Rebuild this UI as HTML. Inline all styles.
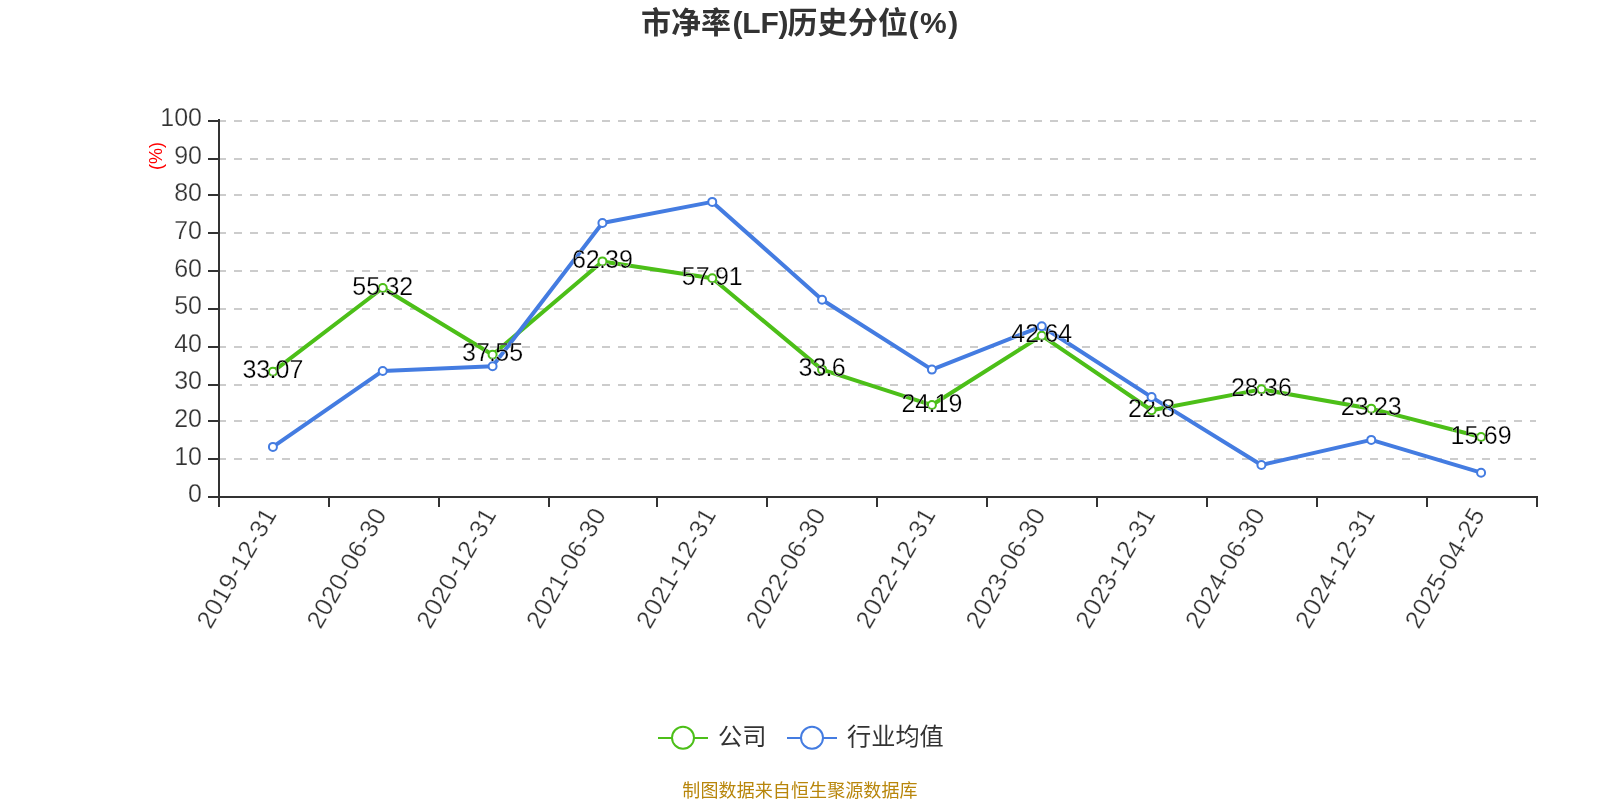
<!DOCTYPE html>
<html lang="zh-CN"><head><meta charset="utf-8"><title>市净率(LF)历史分位(%)</title>
<style>html,body{margin:0;padding:0;background:#fff;}body{width:1600px;height:800px;overflow:hidden;}svg{display:block;will-change:transform;font-family:'Liberation Sans','Noto Sans CJK SC',sans-serif;}</style></head><body>
<svg width="1600" height="800" viewBox="0 0 1600 800">
<rect width="1600" height="800" fill="#fff"/>
<text x="641 671 701 732.5 742.29 760.42 778.55 787.4 817.6 847.8 878 908.4 919.99 948.26" y="33.4" font-size="30" font-weight="bold" fill="#333">市净率(LF)历史分位(%)</text>
<g stroke="#cccccc" stroke-width="2" stroke-dasharray="8 8" fill="none">
<line x1="218" y1="121" x2="1536" y2="121"/>
<line x1="218" y1="159" x2="1536" y2="159"/>
<line x1="218" y1="195" x2="1536" y2="195"/>
<line x1="218" y1="233" x2="1536" y2="233"/>
<line x1="218" y1="271" x2="1536" y2="271"/>
<line x1="218" y1="309" x2="1536" y2="309"/>
<line x1="218" y1="347" x2="1536" y2="347"/>
<line x1="218" y1="385" x2="1536" y2="385"/>
<line x1="218" y1="421" x2="1536" y2="421"/>
<line x1="218" y1="459" x2="1536" y2="459"/>
</g>
<g stroke="#333333" stroke-width="2" fill="none">
<line x1="219" y1="119" x2="219" y2="498"/>
<line x1="218" y1="497" x2="1538" y2="497"/>
<line x1="208" y1="121" x2="218" y2="121"/>
<line x1="208" y1="159" x2="218" y2="159"/>
<line x1="208" y1="195" x2="218" y2="195"/>
<line x1="208" y1="233" x2="218" y2="233"/>
<line x1="208" y1="271" x2="218" y2="271"/>
<line x1="208" y1="309" x2="218" y2="309"/>
<line x1="208" y1="347" x2="218" y2="347"/>
<line x1="208" y1="385" x2="218" y2="385"/>
<line x1="208" y1="421" x2="218" y2="421"/>
<line x1="208" y1="459" x2="218" y2="459"/>
<line x1="208" y1="497" x2="218" y2="497"/>
<line x1="219" y1="497" x2="219" y2="507"/>
<line x1="329" y1="497" x2="329" y2="507"/>
<line x1="439" y1="497" x2="439" y2="507"/>
<line x1="549" y1="497" x2="549" y2="507"/>
<line x1="657" y1="497" x2="657" y2="507"/>
<line x1="767" y1="497" x2="767" y2="507"/>
<line x1="877" y1="497" x2="877" y2="507"/>
<line x1="987" y1="497" x2="987" y2="507"/>
<line x1="1097" y1="497" x2="1097" y2="507"/>
<line x1="1207" y1="497" x2="1207" y2="507"/>
<line x1="1317" y1="497" x2="1317" y2="507"/>
<line x1="1427" y1="497" x2="1427" y2="507"/>
<line x1="1537" y1="497" x2="1537" y2="507"/>
</g>
<g font-size="25" fill="#333" text-anchor="end" stroke="#fff" stroke-width="0.25" paint-order="fill stroke">
<text x="202" y="126.10">100</text>
<text x="202" y="163.70">90</text>
<text x="202" y="201.30">80</text>
<text x="202" y="238.90">70</text>
<text x="202" y="276.50">60</text>
<text x="202" y="314.10">50</text>
<text x="202" y="351.70">40</text>
<text x="202" y="389.30">30</text>
<text x="202" y="426.90">20</text>
<text x="202" y="464.50">10</text>
<text x="202" y="502.10">0</text>
</g>
<text transform="translate(162.2 156) rotate(-90)" text-anchor="middle" font-size="18" fill="#f00">(%)</text>
<g font-size="25" fill="#333" text-anchor="end" letter-spacing="0.6" stroke="#fff" stroke-width="0.25" paint-order="fill stroke">
<text transform="translate(272.92 512) rotate(-60)" x="0.6" y="5">2019-12-31</text>
<text transform="translate(382.75 512) rotate(-60)" x="0.6" y="5">2020-06-30</text>
<text transform="translate(492.58 512) rotate(-60)" x="0.6" y="5">2020-12-31</text>
<text transform="translate(602.42 512) rotate(-60)" x="0.6" y="5">2021-06-30</text>
<text transform="translate(712.25 512) rotate(-60)" x="0.6" y="5">2021-12-31</text>
<text transform="translate(822.08 512) rotate(-60)" x="0.6" y="5">2022-06-30</text>
<text transform="translate(931.92 512) rotate(-60)" x="0.6" y="5">2022-12-31</text>
<text transform="translate(1041.75 512) rotate(-60)" x="0.6" y="5">2023-06-30</text>
<text transform="translate(1151.58 512) rotate(-60)" x="0.6" y="5">2023-12-31</text>
<text transform="translate(1261.42 512) rotate(-60)" x="0.6" y="5">2024-06-30</text>
<text transform="translate(1371.25 512) rotate(-60)" x="0.6" y="5">2024-12-31</text>
<text transform="translate(1481.08 512) rotate(-60)" x="0.6" y="5">2025-04-25</text>
</g>
<polyline points="272.92,371.66 382.75,288.00 492.58,354.81 602.42,261.41 712.25,278.26 822.08,369.66 931.92,405.05 1041.75,335.67 1151.58,410.27 1261.42,389.37 1371.25,408.66 1481.08,437.01" fill="none" stroke="#4cbf18" stroke-width="4" stroke-linejoin="bevel"/>
<polyline points="272.92,446.90 382.75,370.95 492.58,366.20 602.42,223.00 712.25,201.90 822.08,299.70 931.92,369.60 1041.75,326.30 1151.58,397.10 1261.42,464.95 1371.25,439.90 1481.08,472.70" fill="none" stroke="#447ce1" stroke-width="4" stroke-linejoin="bevel"/>
<g fill="#fff" stroke-width="2" stroke="#4cbf18">
<circle cx="272.92" cy="371.66" r="4"/>
<circle cx="382.75" cy="288.00" r="4"/>
<circle cx="492.58" cy="354.81" r="4"/>
<circle cx="602.42" cy="261.41" r="4"/>
<circle cx="712.25" cy="278.26" r="4"/>
<circle cx="822.08" cy="369.66" r="4"/>
<circle cx="931.92" cy="405.05" r="4"/>
<circle cx="1041.75" cy="335.67" r="4"/>
<circle cx="1151.58" cy="410.27" r="4"/>
<circle cx="1261.42" cy="389.37" r="4"/>
<circle cx="1371.25" cy="408.66" r="4"/>
<circle cx="1481.08" cy="437.01" r="4"/>
</g>
<g font-size="25" fill="#000" text-anchor="middle" stroke="#fff" stroke-width="0.25" paint-order="fill stroke">
<text x="272.92" y="378.16" dx="0 0 -0.8 -0.8 0">33.07</text>
<text x="382.75" y="294.50" dx="0 0 -0.8 -0.8 0">55.32</text>
<text x="492.58" y="361.31" dx="0 0 -0.8 -0.8 0">37.55</text>
<text x="602.42" y="267.91" dx="0 0 -0.8 -0.8 0">62.39</text>
<text x="712.25" y="284.76" dx="0 0 -0.8 -0.8 0">57.91</text>
<text x="822.08" y="376.16" dx="0 0 -0.8 -0.8">33.6</text>
<text x="931.92" y="411.55" dx="0 0 -0.8 -0.8 0">24.19</text>
<text x="1041.75" y="342.17" dx="0 0 -0.8 -0.8 0">42.64</text>
<text x="1151.58" y="416.77" dx="0 0 -0.8 -0.8">22.8</text>
<text x="1261.42" y="395.87" dx="0 0 -0.8 -0.8 0">28.36</text>
<text x="1371.25" y="415.16" dx="0 0 -0.8 -0.8 0">23.23</text>
<text x="1481.08" y="443.51" dx="0 0 -0.8 -0.8 0">15.69</text>
</g>
<g fill="#fff" stroke-width="2" stroke="#447ce1">
<circle cx="272.92" cy="446.90" r="4"/>
<circle cx="382.75" cy="370.95" r="4"/>
<circle cx="492.58" cy="366.20" r="4"/>
<circle cx="602.42" cy="223.00" r="4"/>
<circle cx="712.25" cy="201.90" r="4"/>
<circle cx="822.08" cy="299.70" r="4"/>
<circle cx="931.92" cy="369.60" r="4"/>
<circle cx="1041.75" cy="326.30" r="4"/>
<circle cx="1151.58" cy="397.10" r="4"/>
<circle cx="1261.42" cy="464.95" r="4"/>
<circle cx="1371.25" cy="439.90" r="4"/>
<circle cx="1481.08" cy="472.70" r="4"/>
</g>
<g stroke="#4cbf18" stroke-width="2" fill="#fff"><line x1="658" y1="738" x2="708" y2="738"/><circle cx="683" cy="737.75" r="11"/></g><text x="718" y="744.6" font-size="24.2" fill="#333">公司</text>
<g stroke="#447ce1" stroke-width="2" fill="#fff"><line x1="787" y1="738" x2="837" y2="738"/><circle cx="812" cy="737.75" r="11"/></g><text x="847" y="744.6" font-size="24.2" fill="#333">行业均值</text>
<text x="800" y="796.7" text-anchor="middle" font-size="18" fill="#b8860b" letter-spacing="0.1">制图数据来自恒生聚源数据库</text>
</svg></body></html>
